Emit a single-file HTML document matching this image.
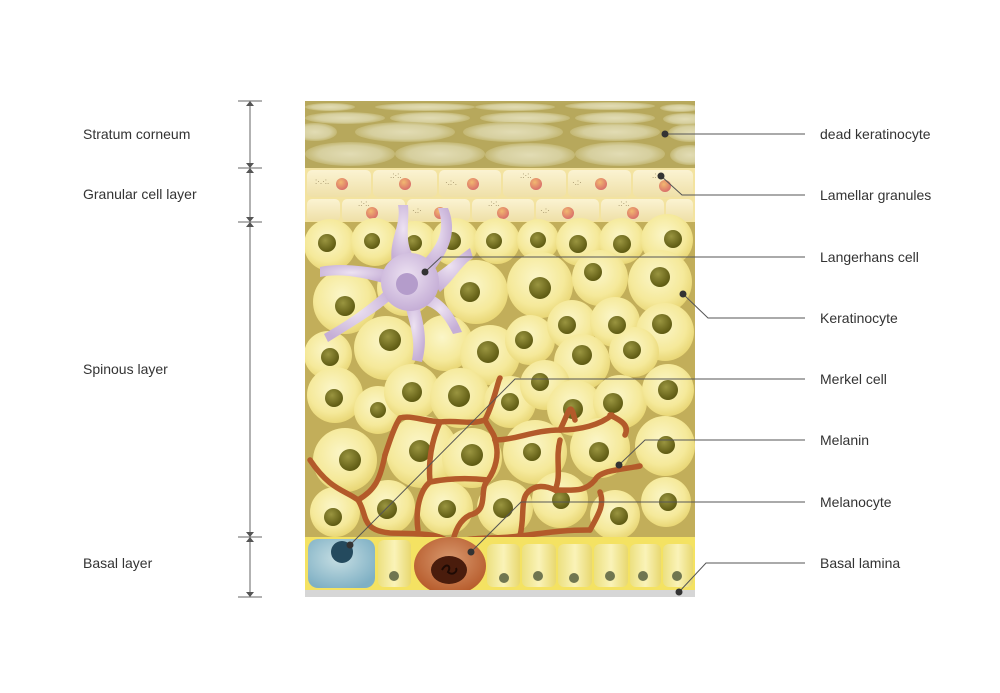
<!DOCTYPE html>
<html><head><meta charset="utf-8"><style>
html,body{margin:0;padding:0;background:#fff;}
svg{display:block;}
text{font-family:"Liberation Sans",sans-serif;font-size:14px;fill:#333;}
</style></head><body>
<svg width="1000" height="693" viewBox="0 0 1000 693" xmlns="http://www.w3.org/2000/svg">
<defs>
<clipPath id="clip"><rect x="305" y="101" width="390" height="496"/></clipPath>
<radialGradient id="cell" cx="45%" cy="40%" r="60%"><stop offset="0" stop-color="#fbf6c8"/><stop offset="0.7" stop-color="#f5e99a"/><stop offset="1" stop-color="#e9d777"/></radialGradient>
<radialGradient id="nuc" cx="40%" cy="35%" r="65%"><stop offset="0" stop-color="#9a9540"/><stop offset="1" stop-color="#5e5a12"/></radialGradient>
<radialGradient id="ell" cx="50%" cy="50%" r="50%"><stop offset="0" stop-color="#e2dcb4"/><stop offset="0.7" stop-color="#d6cf9e"/><stop offset="1" stop-color="#c4b874"/></radialGradient>
<linearGradient id="gran" x1="0" y1="0" x2="0" y2="1"><stop offset="0" stop-color="#fbf3d2"/><stop offset="1" stop-color="#efe0a8"/></linearGradient>
<radialGradient id="gnuc" cx="40%" cy="35%" r="65%"><stop offset="0" stop-color="#f2b870"/><stop offset="1" stop-color="#d9706a"/></radialGradient>
<linearGradient id="col" x1="0" y1="0" x2="1" y2="0"><stop offset="0" stop-color="#ece080"/><stop offset="0.5" stop-color="#faf3b8"/><stop offset="1" stop-color="#e8d870"/></linearGradient>
<radialGradient id="blue" cx="45%" cy="40%" r="65%"><stop offset="0" stop-color="#c6dee3"/><stop offset="1" stop-color="#7fb0c4"/></radialGradient>
<radialGradient id="mel" cx="50%" cy="40%" r="60%"><stop offset="0" stop-color="#d99a70"/><stop offset="1" stop-color="#b65a2a"/></radialGradient>
<radialGradient id="lang" cx="45%" cy="40%" r="60%"><stop offset="0" stop-color="#ede2f2"/><stop offset="1" stop-color="#c5aed6"/></radialGradient>
</defs>

<!-- scale -->
<g stroke="#666" stroke-width="1" fill="#555">
<line x1="250" y1="101" x2="250" y2="597"/>
<line x1="238" y1="101" x2="262" y2="101"/><line x1="238" y1="168" x2="262" y2="168"/>
<line x1="238" y1="222" x2="262" y2="222"/><line x1="238" y1="537" x2="262" y2="537"/>
<line x1="238" y1="597" x2="262" y2="597"/>
<path d="M246 106 L250 101 L254 106Z M246 163 L250 168 L254 163Z M246 173 L250 168 L254 173Z M246 217 L250 222 L254 217Z M246 227 L250 222 L254 227Z M246 532 L250 537 L254 532Z M246 542 L250 537 L254 542Z M246 592 L250 597 L254 592Z" stroke="none"/>
</g>
<text x="83" y="139">Stratum corneum</text>
<text x="83" y="199">Granular cell layer</text>
<text x="83" y="374">Spinous layer</text>
<text x="83" y="568">Basal layer</text>

<g clip-path="url(#clip)">
<!-- stratum corneum -->
<rect x="305" y="101" width="390" height="67" fill="#b7a85c"/>
<g fill="url(#ell)">
<ellipse cx="330" cy="107" rx="25" ry="4"/><ellipse cx="425" cy="107" rx="50" ry="4"/><ellipse cx="515" cy="107" rx="40" ry="4"/><ellipse cx="610" cy="106" rx="45" ry="4"/><ellipse cx="680" cy="108" rx="20" ry="4"/>
<ellipse cx="345" cy="118" rx="40" ry="6"/><ellipse cx="430" cy="118" rx="40" ry="6"/><ellipse cx="525" cy="118" rx="45" ry="6"/><ellipse cx="615" cy="118" rx="40" ry="6"/><ellipse cx="685" cy="119" rx="22" ry="6"/>
<ellipse cx="315" cy="132" rx="22" ry="9"/><ellipse cx="405" cy="132" rx="50" ry="10"/><ellipse cx="513" cy="132" rx="50" ry="10"/><ellipse cx="615" cy="132" rx="45" ry="9"/><ellipse cx="690" cy="133" rx="22" ry="9"/>
<ellipse cx="350" cy="154" rx="45" ry="12"/><ellipse cx="440" cy="154" rx="45" ry="12"/><ellipse cx="530" cy="155" rx="45" ry="12"/><ellipse cx="620" cy="154" rx="45" ry="12"/><ellipse cx="690" cy="155" rx="20" ry="10"/>
</g>

<!-- granular -->
<rect x="305" y="168" width="390" height="54" fill="#f3e3a0"/>
<g fill="url(#gran)">
<rect x="307" y="170" width="64" height="27" rx="5"/><rect x="373" y="170" width="64" height="27" rx="5"/><rect x="439" y="170" width="62" height="27" rx="5"/><rect x="503" y="170" width="63" height="27" rx="5"/><rect x="568" y="170" width="63" height="27" rx="5"/><rect x="633" y="170" width="60" height="27" rx="5"/>
<rect x="307" y="199" width="33" height="22" rx="5"/><rect x="342" y="199" width="63" height="22" rx="5"/><rect x="407" y="199" width="63" height="22" rx="5"/><rect x="472" y="199" width="62" height="22" rx="5"/><rect x="536" y="199" width="63" height="22" rx="5"/><rect x="601" y="199" width="63" height="22" rx="5"/><rect x="666" y="199" width="27" height="22" rx="5"/>
</g>
<g fill="url(#gnuc)">
<circle cx="342" cy="184" r="6"/><circle cx="405" cy="184" r="6"/><circle cx="473" cy="184" r="6"/><circle cx="536" cy="184" r="6"/><circle cx="601" cy="184" r="6"/><circle cx="665" cy="186" r="6"/>
<circle cx="372" cy="213" r="6"/><circle cx="440" cy="213" r="6"/><circle cx="503" cy="213" r="6"/><circle cx="568" cy="213" r="6"/><circle cx="633" cy="213" r="6"/>
</g>
<g>
<text x="315" y="184" style="font-size:8px;fill:#9a8a60">:·.·:.</text><text x="390" y="178" style="font-size:8px;fill:#9a8a60">.:·:.</text><text x="445" y="185" style="font-size:8px;fill:#9a8a60">·.:·.</text><text x="520" y="178" style="font-size:8px;fill:#9a8a60">.:·:.</text><text x="572" y="185" style="font-size:8px;fill:#9a8a60">·.:·</text><text x="652" y="178" style="font-size:8px;fill:#9a8a60">.:·:</text>
<text x="358" y="206" style="font-size:8px;fill:#9a8a60">.:·:.</text><text x="412" y="213" style="font-size:8px;fill:#9a8a60">·.:·</text><text x="488" y="206" style="font-size:8px;fill:#9a8a60">.:·:.</text><text x="540" y="213" style="font-size:8px;fill:#9a8a60">·.:·</text><text x="618" y="206" style="font-size:8px;fill:#9a8a60">.:·:.</text>
</g>

<!-- spinous -->
<rect x="305" y="222" width="390" height="315" fill="#c2ae5a"/>
<g fill="url(#cell)">
<circle cx="330" cy="245" r="26"/><circle cx="375" cy="242" r="24"/><circle cx="415" cy="243" r="22"/><circle cx="455" cy="242" r="24"/><circle cx="497" cy="241" r="23"/><circle cx="538" cy="240" r="21"/><circle cx="580" cy="242" r="24"/><circle cx="622" cy="241" r="23"/><circle cx="667" cy="240" r="26"/>
<circle cx="345" cy="302" r="32"/><circle cx="405" cy="288" r="28"/><circle cx="476" cy="292" r="32"/><circle cx="540" cy="285" r="33"/><circle cx="600" cy="278" r="28"/><circle cx="660" cy="282" r="32"/>
<circle cx="328" cy="355" r="24"/><circle cx="386" cy="348" r="32"/><circle cx="445" cy="343" r="28"/><circle cx="490" cy="355" r="30"/><circle cx="530" cy="340" r="25"/><circle cx="572" cy="325" r="25"/><circle cx="615" cy="322" r="25"/><circle cx="665" cy="332" r="29"/><circle cx="582" cy="362" r="28"/><circle cx="634" cy="352" r="25"/>
<circle cx="335" cy="395" r="28"/><circle cx="378" cy="410" r="24"/><circle cx="412" cy="392" r="28"/><circle cx="460" cy="398" r="30"/><circle cx="510" cy="402" r="26"/><circle cx="545" cy="385" r="25"/><circle cx="575" cy="408" r="28"/><circle cx="620" cy="402" r="27"/><circle cx="668" cy="390" r="26"/>
<circle cx="345" cy="460" r="32"/><circle cx="422" cy="452" r="36"/><circle cx="472" cy="458" r="30"/><circle cx="535" cy="452" r="32"/><circle cx="600" cy="448" r="30"/><circle cx="665" cy="446" r="30"/>
<circle cx="335" cy="512" r="25"/><circle cx="388" cy="507" r="27"/><circle cx="446" cy="508" r="27"/><circle cx="505" cy="508" r="28"/><circle cx="560" cy="500" r="28"/><circle cx="615" cy="515" r="25"/><circle cx="666" cy="502" r="25"/>
</g>
<g fill="url(#nuc)">
<circle cx="327" cy="243" r="9"/><circle cx="372" cy="241" r="8"/><circle cx="414" cy="243" r="8"/><circle cx="452" cy="241" r="9"/><circle cx="494" cy="241" r="8"/><circle cx="538" cy="240" r="8"/><circle cx="578" cy="244" r="9"/><circle cx="622" cy="244" r="9"/><circle cx="673" cy="239" r="9"/>
<circle cx="345" cy="306" r="10"/><circle cx="470" cy="292" r="10"/><circle cx="540" cy="288" r="11"/><circle cx="593" cy="272" r="9"/><circle cx="660" cy="277" r="10"/>
<circle cx="330" cy="357" r="9"/><circle cx="390" cy="340" r="11"/><circle cx="488" cy="352" r="11"/><circle cx="524" cy="340" r="9"/><circle cx="567" cy="325" r="9"/><circle cx="617" cy="325" r="9"/><circle cx="662" cy="324" r="10"/><circle cx="582" cy="355" r="10"/><circle cx="632" cy="350" r="9"/>
<circle cx="334" cy="398" r="9"/><circle cx="378" cy="410" r="8"/><circle cx="412" cy="392" r="10"/><circle cx="459" cy="396" r="11"/><circle cx="510" cy="402" r="9"/><circle cx="540" cy="382" r="9"/><circle cx="573" cy="409" r="10"/><circle cx="613" cy="403" r="10"/><circle cx="668" cy="390" r="10"/>
<circle cx="350" cy="460" r="11"/><circle cx="420" cy="451" r="11"/><circle cx="472" cy="455" r="11"/><circle cx="532" cy="452" r="9"/><circle cx="599" cy="452" r="10"/><circle cx="666" cy="445" r="9"/>
<circle cx="333" cy="517" r="9"/><circle cx="387" cy="509" r="10"/><circle cx="447" cy="509" r="9"/><circle cx="503" cy="508" r="10"/><circle cx="561" cy="500" r="9"/><circle cx="619" cy="516" r="9"/><circle cx="668" cy="502" r="9"/>
</g>

<!-- melanocyte dendrites -->
<g fill="none" stroke="#b35a2a" stroke-width="5.5" stroke-linecap="round">
<path d="M310 460 C330 490 345 490 358 500 C368 515 360 530 390 533 C420 534 440 532 452 545"/>
<path d="M358 500 C375 490 380 480 385 455"/>
<path d="M452 545 C455 530 460 520 470 515 C490 510 478 490 488 480 C495 470 500 455 495 440"/>
<path d="M452 545 C470 535 490 540 520 536 C545 533 560 530 590 530"/>
<path d="M520 536 C525 515 520 500 528 492 C535 485 545 485 555 490 C562 475 555 460 560 440"/>
<path d="M555 490 C575 490 585 492 595 480 C600 470 620 470 640 466"/>
<path d="M590 530 C598 515 605 505 600 492"/>
<path d="M488 480 C470 478 450 478 430 482 C420 490 415 510 418 530"/>
<path d="M400 418 C410 415 420 420 440 422 C460 420 470 425 485 420 C495 400 498 380 500 378"/>
<path d="M430 482 C428 460 432 440 440 422"/>
<path d="M495 440 C515 440 535 430 560 430 C570 410 570 400 575 420"/>
<path d="M560 430 C580 430 600 425 612 415"/>
<path d="M485 420 C490 430 495 435 495 440"/>
<path d="M385 455 C390 440 395 425 400 418"/>
<path d="M610 415 C620 420 630 425 625 435"/>
</g>

<!-- Langerhans -->
<g fill="url(#lang)">
<path d="M392 265 C388 240 402 225 398 205 L408 205 C410 225 402 245 418 262 Z"/>
<path d="M422 262 C438 245 446 230 438 208 L448 208 C458 232 448 252 434 270 Z"/>
<path d="M430 278 C450 264 460 255 470 248 L473 258 C462 264 456 278 440 292 Z"/>
<path d="M428 293 C445 300 455 315 462 332 L453 334 C446 320 438 308 422 304 Z"/>
<path d="M418 302 C424 325 428 340 422 362 L412 360 C416 340 410 325 405 305 Z"/>
<path d="M395 296 C380 310 360 322 328 342 L324 334 C352 318 372 303 388 288 Z"/>
<path d="M388 284 C370 280 345 272 320 277 L320 267 C345 262 370 268 390 270 Z"/>
<circle cx="410" cy="282" r="29"/>
</g>
<circle cx="407" cy="284" r="11" fill="#b49ccb"/>

<!-- basal layer -->
<rect x="305" y="537" width="390" height="53" fill="#f4e262"/>
<rect x="308" y="539" width="67" height="49" rx="10" fill="url(#blue)"/>
<circle cx="342" cy="552" r="11" fill="#244a5e"/>
<g fill="url(#col)">
<rect x="378" y="540" width="33" height="47" rx="6"/><rect x="487" y="544" width="33" height="43" rx="6"/><rect x="522" y="544" width="34" height="43" rx="6"/><rect x="558" y="544" width="34" height="43" rx="6"/><rect x="594" y="544" width="34" height="43" rx="6"/><rect x="630" y="544" width="31" height="43" rx="6"/><rect x="663" y="544" width="30" height="43" rx="6"/>
</g>
<g fill="#707650">
<circle cx="394" cy="576" r="5"/><circle cx="504" cy="578" r="5"/><circle cx="538" cy="576" r="5"/><circle cx="574" cy="578" r="5"/><circle cx="610" cy="576" r="5"/><circle cx="643" cy="576" r="5"/><circle cx="677" cy="576" r="5"/>
</g>
<ellipse cx="450" cy="566" rx="36" ry="29" fill="url(#mel)"/>
<ellipse cx="449" cy="570" rx="18" ry="14" fill="#4a1c0c"/>
<path d="M442 570 C446 562 452 566 448 572 C452 576 458 572 456 568" stroke="#1e0a04" stroke-width="2" fill="none"/>
<rect x="305" y="590" width="390" height="7" fill="#d6d6d6"/>
</g>

<!-- leaders -->
<g stroke="#555" stroke-width="1" fill="none">
<path d="M665 134 H805"/>
<path d="M661 176 L682 195 H805"/>
<path d="M425 272 L441 257 H805"/>
<path d="M683 294 L708 318 H805"/>
<path d="M350 545 L515 379 H805"/>
<path d="M619 465 L645 440 H805"/>
<path d="M471 552 L521 502 H805"/>
<path d="M679 592 L706 563 H805"/>
</g>
<g fill="#333">
<circle cx="665" cy="134" r="3.5"/><circle cx="661" cy="176" r="3.5"/><circle cx="425" cy="272" r="3.5"/><circle cx="683" cy="294" r="3.5"/><circle cx="350" cy="545" r="3.5"/><circle cx="619" cy="465" r="3.5"/><circle cx="471" cy="552" r="3.5"/><circle cx="679" cy="592" r="3.5"/>
</g>
<text x="820" y="139">dead keratinocyte</text>
<text x="820" y="200">Lamellar granules</text>
<text x="820" y="262">Langerhans cell</text>
<text x="820" y="323">Keratinocyte</text>
<text x="820" y="384">Merkel cell</text>
<text x="820" y="445">Melanin</text>
<text x="820" y="507">Melanocyte</text>
<text x="820" y="568">Basal lamina</text>
</svg>
</body></html>
